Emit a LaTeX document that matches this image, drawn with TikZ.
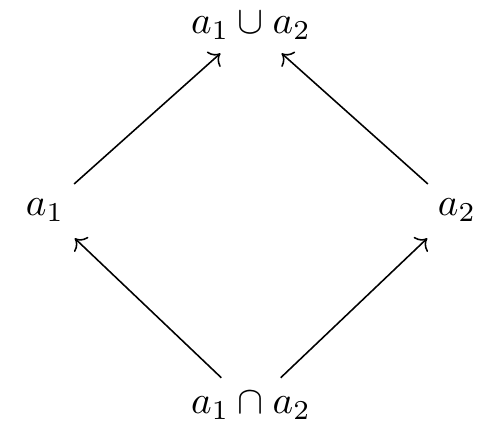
\documentclass[tikz,border=0pt]{standalone}
\usetikzlibrary{arrows.meta}
\begin{document}
\begin{tikzpicture}[x=0.256pt,y=-0.256pt,
  lbl/.style={inner sep=0pt},
  arr/.style={->, line width=0.4pt}]
\useasboundingbox (0,0) rectangle (500,421);
\node[lbl] (top) at (251,26) {$a_1\cup a_2$};
\node[lbl] (l) at (45,210) {$a_1$};
\node[lbl] (r) at (457,210) {$a_2$};
\node[lbl] (bot) at (251,406) {$a_1\cap a_2$};
\draw[arr, shorten <=10pt, shorten >=10.5pt] (l.center) -- (top.center);
\draw[arr, shorten <=10pt, shorten >=10.5pt] (r.center) -- (top.center);
\draw[arr, shorten <=10.5pt, shorten >=10.5pt] (bot.center) -- (l.center);
\draw[arr, shorten <=10.5pt, shorten >=10.5pt] (bot.center) -- (r.center);
\end{tikzpicture}
\end{document}
